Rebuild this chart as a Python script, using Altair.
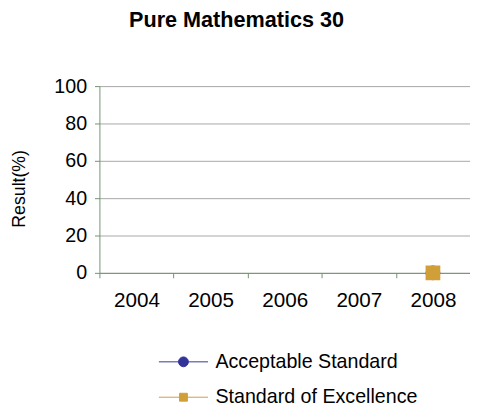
import altair as alt
import pandas as pd

# ---- data ----
years = ["2004", "2005", "2006", "2007", "2008"]
acceptable = [None, None, None, None, 0]
excellence = [None, None, None, None, 0]
series_names = ["Acceptable Standard", "Standard of Excellence"]
series_colors = ["#333399", "#D19F38"]
series_shapes = ["circle", "square"]
y_ticks = [0, 20, 40, 60, 80, 100]

rows = []
for name, vals in zip(series_names, [acceptable, excellence]):
    for yr, v in zip(years, vals):
        rows.append({"Year": yr, "Series": name, "Result": v})
df = pd.DataFrame(rows)

FONT = "Liberation Sans"
GREEN = "#6E9470"
GRID = "#A6A6A6"

# legend symbols: a line with a marker on it (custom paths in the -1..1 box)
legend_paths = [
    "M-1,0L1,0M0.2,0A0.2,0.2,0,1,1,-0.2,0A0.2,0.2,0,1,1,0.2,0Z",
    "M-1,0L1,0M-0.16,-0.16L0.16,-0.16L0.16,0.16L-0.16,0.16Z",
]

x_enc = alt.X(
    "Year:O",
    scale=alt.Scale(type="band", domain=years, paddingInner=0, paddingOuter=0),
    axis=alt.Axis(
        title=None, labelAngle=0, tickBand="extent", grid=False,
        domainColor=GREEN, tickColor=GREEN, tickSize=5,
        labelFont=FONT, labelFontSize=21, labelColor="#000000", labelPadding=12,
    ),
)
y_enc = alt.Y(
    "Result:Q",
    scale=alt.Scale(domain=[0, 100], nice=False),
    axis=alt.Axis(
        values=y_ticks, title="Result(%)", grid=True, gridColor=GRID,
        domainColor=GREEN, tickColor=GREEN, tickSize=5,
        labelFont=FONT, labelFontSize=20, labelColor="#000000", labelPadding=8,
        titleFont=FONT, titleFontSize=18, titleFontWeight="normal", titleColor="#000000",
        titleX=-81, titleY=104, titleAngle=270, titleBaseline="middle", titleAlign="center",
    ),
)

layers = []
for name, color, shape in zip(series_names, series_colors, series_shapes):
    base = alt.Chart(df).transform_filter(alt.datum.Series == name)
    layers.append(base.mark_line(color=color, strokeWidth=1).encode(x=x_enc, y=y_enc))
    layers.append(
        base.mark_point(shape=shape, filled=True, size=225, color=color, opacity=1)
        .encode(x=x_enc, y=y_enc)
    )

legend = alt.Legend(
    title=None, orient="none", legendX=60, legendY=255, direction="vertical",
    padding=0, labelFont=FONT, labelFontSize=20, labelColor="#000000",
    labelLimit=400, labelOffset=7, rowPadding=-13, symbolSize=2500,
    symbolStrokeWidth=1, symbolOpacity=1,
)
legend_layer = alt.Chart(df).mark_point(filled=True, opacity=0, size=10).encode(
    x=x_enc,
    y=y_enc,
    fill=alt.Fill("Series:N", scale=alt.Scale(domain=series_names, range=series_colors), legend=legend),
    stroke=alt.Stroke("Series:N", scale=alt.Scale(domain=series_names, range=series_colors), legend=legend),
    shape=alt.Shape("Series:N", scale=alt.Scale(domain=series_names, range=legend_paths), legend=legend),
)

chart = alt.layer(*layers, legend_layer).properties(
    width=377,
    height=190,
    autosize=alt.AutoSizeParams(type="none"),
    padding={"left": 93, "top": 76, "right": 0, "bottom": 134},
    background="white",
    title=alt.TitleParams(
        "Pure Mathematics 30", font=FONT, fontSize=22, fontWeight="bold",
        color="#000000", anchor="middle", dx=-49, offset=45,
    ),
).configure_view(stroke=None)

chart.save("out.html", embed_options={"renderer": "svg", "actions": False})
